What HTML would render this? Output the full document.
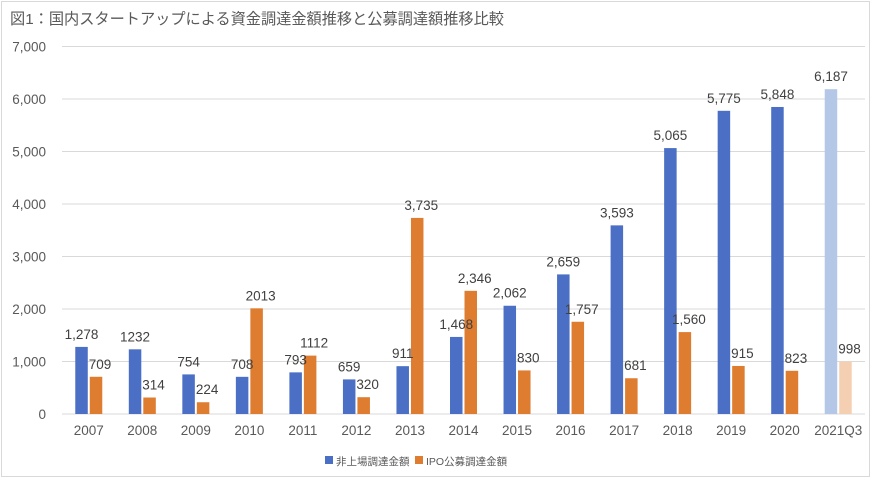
<!DOCTYPE html>
<html><head><meta charset="utf-8"><style>
html,body{margin:0;padding:0;background:#fff;}
body{width:873px;height:480px;overflow:hidden;font-family:"Liberation Sans","Noto Sans CJK JP",sans-serif;}
#frame{position:absolute;left:1px;top:1px;width:869px;height:476px;border:1px solid #d9d9d9;box-sizing:border-box;}
</style></head><body>
<div id="frame"></div>
<svg id="chart" width="873" height="480" style="position:absolute;left:0;top:0">
<text x="10" y="24" font-size="15.2" fill="#595959">図1：国内スタートアップによる資金調達金額推移と公募調達額推移比較</text>
</svg>
<script>
const categories=["2007","2008","2009","2010","2011","2012","2013","2014","2015","2016","2017","2018","2019","2020","2021Q3"];
const privateValues=[1278,1232,754,708,793,659,911,1468,2062,2659,3593,5065,5775,5848,6187];
const ipoValues=[709,314,224,2013,1112,320,3735,2346,830,1757,681,1560,915,823,998];
const privateLabels=["1,278","1232","754","708","793","659","911","1,468","2,062","2,659","3,593","5,065","5,775","5,848","6,187"];
const ipoLabels=["709","314","224","2013","1112","320","3,735","2,346","830","1,757","681","1,560","915","823","998"];
const yTicks=[0,1000,2000,3000,4000,5000,6000,7000];
const yTickLabels=["0","1,000","2,000","3,000","4,000","5,000","6,000","7,000"];

const NS="http://www.w3.org/2000/svg";
const svg=document.getElementById('chart');
const x0=62,x1=865,y0=414,yTop=46.5,yMax=7000;
const bw=(x1-x0)/categories.length;
const yS=v=>y0-(v/yMax)*(y0-yTop);
const xC=i=>x0+bw*(i+0.5);
function mk(t,a){const e=document.createElementNS(NS,t);for(const k in a)e.setAttribute(k,a[k]);svg.appendChild(e);return e;}
yTicks.forEach((v,i)=>{
  const g=mk('line',{x1:x0,x2:x1,y1:yS(v),y2:yS(v),stroke:'#d9d9d9','stroke-width':1});
  
  
  const t=mk('text',{x:46,y:yS(v)+5,'text-anchor':'end','font-size':13.5,fill:'#595959'});
  t.textContent=yTickLabels[i];
  
  
});
const barW=12.5;
categories.forEach((c,i)=>{
  const last=i===categories.length-1;
  const bx=xC(i)-barW-1, ox=xC(i)+1;
  const b=mk('rect',{x:bx,y:yS(privateValues[i]),width:barW,height:y0-yS(privateValues[i]),fill:last?'#b4c7e7':'#4a6fc4'});
  
  
  const o=mk('rect',{x:ox,y:yS(ipoValues[i]),width:barW,height:y0-yS(ipoValues[i]),fill:last?'#f4cfb1':'#de7c30'});
  
  
  const bl=mk('text',{x:bx+barW/2,y:yS(privateValues[i])-8,'text-anchor':'middle','font-size':13.5,fill:'#404040'});
  bl.textContent=privateLabels[i];
  
  
  const ol=mk('text',{x:ox+barW/2+4,y:yS(ipoValues[i])-8,'text-anchor':'middle','font-size':13.5,fill:'#404040'});
  ol.textContent=ipoLabels[i];
  
  
  const xl=mk('text',{x:xC(i),y:435,'text-anchor':'middle','font-size':13.5,fill:'#595959'});
  xl.textContent=c;
  
  
});
const l1=mk('rect',{x:325,y:456,width:8,height:8,fill:'#4a6fc4'});


const t1=mk('text',{x:336,y:465,'font-size':10.5,fill:'#595959'});
t1.textContent='非上場調達金額';


const l2=mk('rect',{x:415,y:456,width:8,height:8,fill:'#de7c30'});


const t2=mk('text',{x:426,y:465,'font-size':10.5,fill:'#595959'});
t2.textContent='IPO公募調達金額';


</script>
</body></html>
